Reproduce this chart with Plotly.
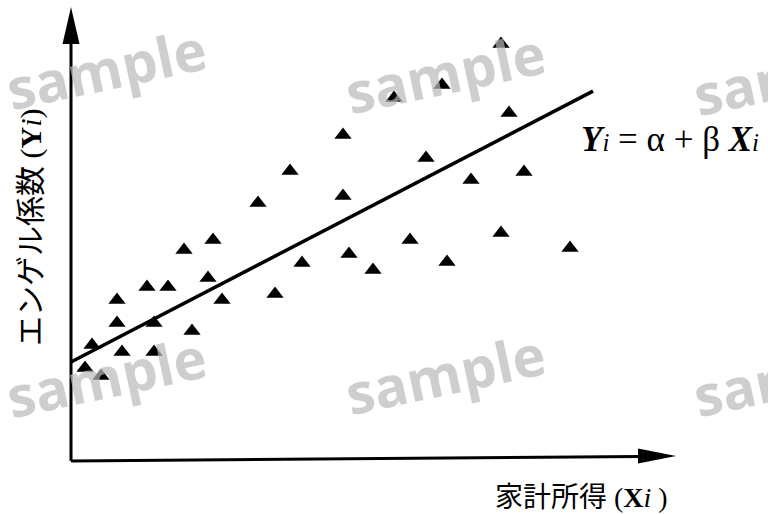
import plotly.graph_objects as go

# Household income (X) and Engel coefficient (Y), arbitrary units
income = [1.4, 2.1, 3.0, 4.6, 4.6, 5.1, 7.6, 8.3, 8.3, 9.7, 11.3, 12.1, 13.7, 14.2, 15.1,
          18.7, 20.4, 21.9, 23.1, 27.2, 27.2, 27.8, 30.2, 32.3, 33.9, 35.5, 37.1, 37.6,
          40.0, 43.0, 43.0, 43.8, 45.3, 49.9]
engel = [9.3, 11.6, 8.5, 16.1, 13.8, 10.9, 17.4, 13.8, 10.9, 17.4, 21.1, 13.0, 18.3, 22.1, 16.1,
         25.8, 16.7, 29.0, 19.8, 32.6, 26.5, 20.7, 19.1, 36.3, 22.1, 30.3, 37.6, 19.9,
         28.1, 41.7, 22.8, 34.8, 28.9, 21.3]

# Regression line Y = alpha + beta X
alpha = 9.9
beta = 0.519
line_x = [0.0, 52.2]
line_y = [alpha + beta * v for v in line_x]

W, H = 768, 514

fig = go.Figure()
fig.add_trace(go.Scatter(x=line_x, y=line_y, mode="lines",
                         line=dict(color="black", width=3.5), hoverinfo="skip"))
fig.add_trace(go.Scatter(x=income, y=engel, mode="markers",
                         marker=dict(symbol="triangle-up", size=15, color="black",
                                     line=dict(width=0))))

def px(xp, yp):
    return xp / W, 1 - yp / H

shapes = [
    dict(type="line", xref="x", yref="y", x0=0, y0=0, x1=0, y1=42.0,
         line=dict(color="black", width=3)),
    dict(type="path", xref="x", yref="y", path="M -0.85,41.7 L 0.85,41.7 L 0,45.4 Z",
         fillcolor="black", line=dict(width=0)),
    dict(type="line", xref="x", yref="y", x0=0, y0=0, x1=57.0, y1=0.45,
         line=dict(color="black", width=3)),
    dict(type="path", xref="x", yref="y", path="M 56.7,1.25 L 56.7,-0.25 L 60.5,0.5 Z",
         fillcolor="black", line=dict(width=0)),
]

annotations = []
# watermarks
for (cx, cy) in [(106, 68), (445, 72), (793, 74), (106, 376), (445, 373), (793, 375)]:
    x, y = px(cx, cy)
    annotations.append(dict(xref="paper", yref="paper", x=x, y=y, text="sample",
                            showarrow=False, textangle=-12, xanchor="center", yanchor="middle",
                            font=dict(family="Open Sans", size=56, color="rgba(185,185,185,0.7)",
                                      weight="bold")))

serif = "Liberation Serif, Noto Sans CJK JP"
x, y = px(31, 227)
annotations.append(dict(xref="paper", yref="paper", x=x, y=y,
                        text="エンゲル係数 (<b>Y</b><i>i</i>)", showarrow=False, textangle=-90,
                        xanchor="center", yanchor="middle",
                        font=dict(family=serif, size=30, color="black")))
x, y = px(581, 497)
annotations.append(dict(xref="paper", yref="paper", x=x, y=y,
                        text="家計所得 (<b>X</b><i>i</i> )", showarrow=False,
                        xanchor="center", yanchor="middle",
                        font=dict(family=serif, size=28, color="black")))
x, y = px(579, 140)
annotations.append(dict(xref="paper", yref="paper", x=x, y=y,
                        text="<b><i>Y</i></b><span style='font-size:25px'><i>i</i></span> = α + β <b><i>X</i></b><span style='font-size:25px'><i>i</i></span>",
                        showarrow=False, xanchor="left", yanchor="middle",
                        font=dict(family="Liberation Serif", size=35, color="black")))

fig.update_layout(
    width=W, height=H, autosize=False,
    margin=dict(l=0, r=0, t=0, b=0),
    paper_bgcolor="white", plot_bgcolor="white",
    showlegend=False,
    xaxis=dict(range=[-7.1, 69.7], visible=False, fixedrange=True),
    yaxis=dict(range=[-5.3, 46.1], visible=False, fixedrange=True),
    shapes=shapes, annotations=annotations,
)
fig.write_html("out.html", config={"displayModeBar": False},
               post_script="document.body.style.margin='0';document.body.style.overflow='hidden';")
